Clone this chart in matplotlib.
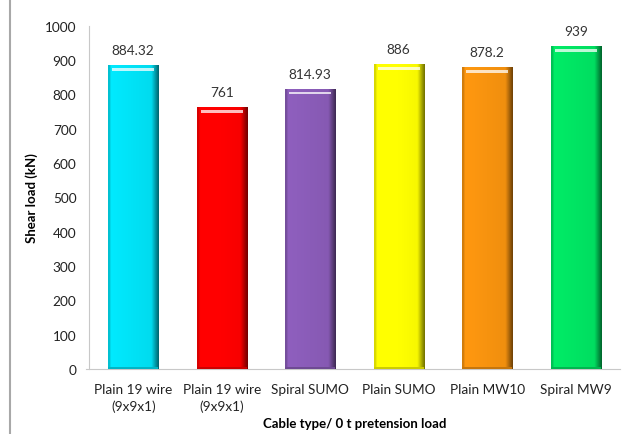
"""Shear load per cable type at 0 t pretension, Excel-style bevelled bars."""

import matplotlib

matplotlib.use("Agg")
import matplotlib.pyplot as plt
import numpy as np
from matplotlib.colors import to_rgb
from matplotlib.patches import Rectangle

# ---------------------------------------------------------------------------
# Data
# ---------------------------------------------------------------------------
categories = [
    "Plain 19 wire\n(9x9x1)",
    "Plain 19 wire\n(9x9x1)",
    "Spiral SUMO",
    "Plain SUMO",
    "Plain MW10",
    "Spiral MW9",
]
shear_load = [884.32, 761, 814.93, 886, 878.2, 939]
value_labels = ["884.32", "761", "814.93", "886", "878.2", "939"]
bar_colors = ["#00e2f6", "#ff0000", "#8a5cb8", "#ffff00", "#f7930f", "#00e463"]
y_ticks = list(range(0, 1001, 100))

plt.rcParams["font.family"] = ["Lato", "DejaVu Sans"]
FS = 9.8


def shade_bar(ax, bar, color):
    """Overlay a horizontal gradient + top highlight to mimic the bevel look."""
    x0, w, h = bar.get_x(), bar.get_width(), bar.get_height()
    base = np.array(to_rgb(color))
    t = np.linspace(0, 1, 64)
    # lighter on the left, darker toward the right edge
    factor = np.where(t < 0.85, 1.0 + 0.08 * (0.5 - t), 1.0 - 0.55 * (t - 0.85) / 0.15)
    factor[:3] = 0.85
    rgb = np.clip(base[None, :] * factor[:, None], 0, 1)
    img = rgb[None, :, :]
    ax.imshow(img, extent=(x0, x0 + w, 0, h), aspect="auto", zorder=3, interpolation="bicubic")
    # top highlight strip
    hl = Rectangle((x0 + w * 0.08, h - 15), w * 0.84, 8, facecolor="white", alpha=0.75,
                   edgecolor="none", zorder=4)
    ax.add_patch(hl)
    # dark bottom bevel
    ax.add_patch(Rectangle((x0, 0), w, 6, facecolor=base * 0.8, edgecolor="none", zorder=4))


def main() -> None:
    fig = plt.figure(figsize=(6.24, 4.35), dpi=100)
    ax = fig.add_axes([0.1426, 0.1494, 0.851, 0.789])

    x = np.arange(len(categories))
    bars = ax.bar(x, shear_load, width=0.566, color=bar_colors, zorder=2)
    for bar, c in zip(bars, bar_colors):
        shade_bar(ax, bar, c)

    for bar, lab in zip(bars, value_labels):
        ax.text(bar.get_x() + bar.get_width() / 2, bar.get_height() + 28, lab,
                ha="center", va="bottom", fontsize=FS, color="#333333")

    ax.set_xlim(-0.5, len(categories) - 0.5)
    ax.set_ylim(0, 1000)
    ax.set_yticks(y_ticks)
    ax.set_xticks(x)
    ax.set_xticklabels(categories, fontsize=FS, color="#222222", linespacing=1.4)
    ax.tick_params(axis="y", labelsize=FS, colors="#222222", length=0, pad=9)
    ax.tick_params(axis="x", length=0, pad=10)

    for side in ["top", "right"]:
        ax.spines[side].set_visible(False)
    ax.spines["left"].set_color("#c8c8c8")
    ax.spines["bottom"].set_color("#c8c8c8")
    ax.spines["bottom"].set_bounds(-0.5 - 0.03, len(categories) - 0.5)

    ax.set_ylabel("Shear load (kN)", fontsize=FS - 0.3, fontweight="bold", labelpad=5)
    ax.set_xlabel("Cable type/ 0 t pretension load", fontsize=FS - 0.3, fontweight="bold", labelpad=4)

    # outer chart frame (cropped at right and bottom)
    frame = Rectangle((10 / 624, -0.2), 1.2, 1.2 + 1 - 12 / 435, transform=fig.transFigure,
                      facecolor="none", edgecolor="#a8a8a8", linewidth=1.5)
    fig.patches.append(frame)

    fig.savefig("out.png", dpi=100)
    plt.close(fig)


if __name__ == "__main__":
    main()
